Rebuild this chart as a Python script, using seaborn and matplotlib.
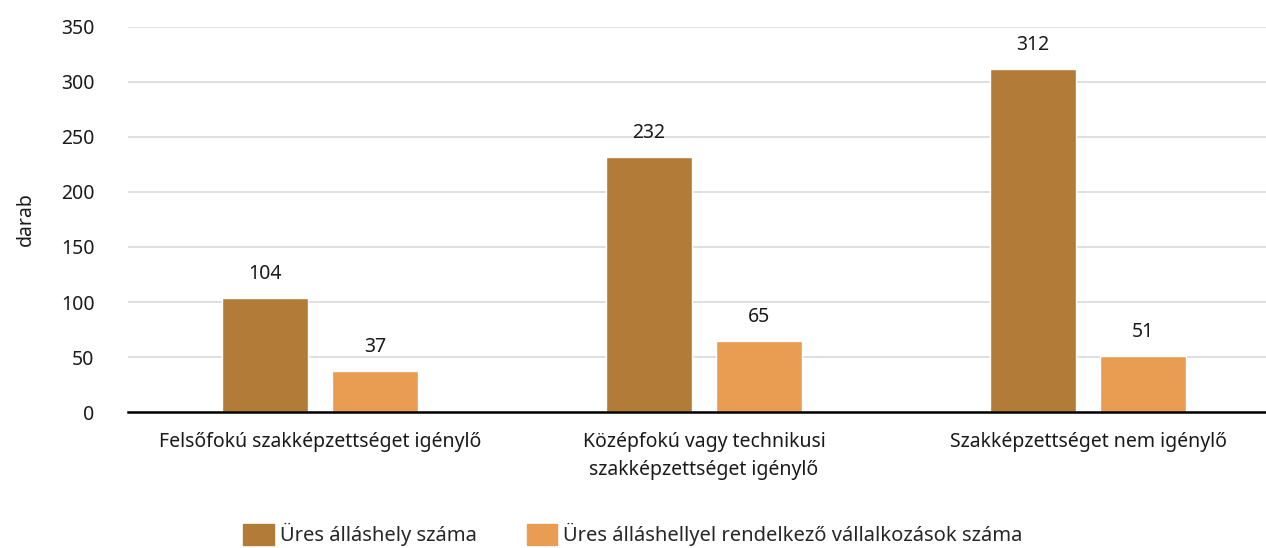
import matplotlib
matplotlib.use("Agg")
import matplotlib.pyplot as plt
import seaborn as sns
import pandas as pd

categories = ["Felsőfokú szakképzettséget igénylő",
              "Középfokú vagy technikusi\nszakképzettséget igénylő",
              "Szakképzettséget nem igénylő"]
series = ["Üres álláshely száma",
          "Üres álláshellyel rendelkező vállalkozások száma"]
vacancies = [104, 232, 312]
companies = [37, 65, 51]
colors = ["#B37B38", "#E89D52"]

df = pd.DataFrame({
    "category": categories * 2,
    "series": [series[0]] * 3 + [series[1]] * 3,
    "value": vacancies + companies,
})

sns.set_theme(style="white")
plt.rcParams["font.family"] = ["Noto Sans", "DejaVu Sans"]
fs = 14

fig = plt.figure(figsize=(12.66, 5.48), dpi=100)
ax = fig.add_axes([0.1011, 0.248, 0.91, 0.703])

sns.barplot(data=df, x="category", y="value", hue="series", palette=colors,
            saturation=1, width=0.573, gap=0.218, ax=ax, legend=False)

for cont in ax.containers:
    ax.bar_label(cont, padding=10, fontsize=fs, color="#1a1a1a")

ax.set_ylim(0, 350)
ax.set_xlim(-0.5, 2.5)
ax.set_yticks(range(0, 351, 50))
ax.yaxis.grid(True, color="#d9d9d9", linewidth=1.2)
ax.set_axisbelow(True)
for s in ["top", "right", "left"]:
    ax.spines[s].set_visible(False)
ax.spines["bottom"].set_color("black")
ax.spines["bottom"].set_linewidth(1.8)
ax.tick_params(axis="y", length=0, pad=24, labelsize=fs, colors="#1a1a1a")
ax.tick_params(axis="x", length=0, pad=14, labelsize=fs, colors="#1a1a1a")
for t in ax.get_xticklabels():
    t.set_linespacing(1.55)
ax.set_xlabel("")
ax.set_ylabel("darab", fontsize=fs, color="#1a1a1a", labelpad=18)

handles = [plt.Rectangle((0, 0), 1, 1, color=c) for c in colors]
fig.legend(handles, series, loc="lower center", bbox_to_anchor=(0.5, -0.03),
           ncol=2, frameon=False, fontsize=14.5, handlelength=1.5,
           handleheight=1.2, columnspacing=2.5, handletextpad=0.3)

fig.savefig("out.png", dpi=100)
